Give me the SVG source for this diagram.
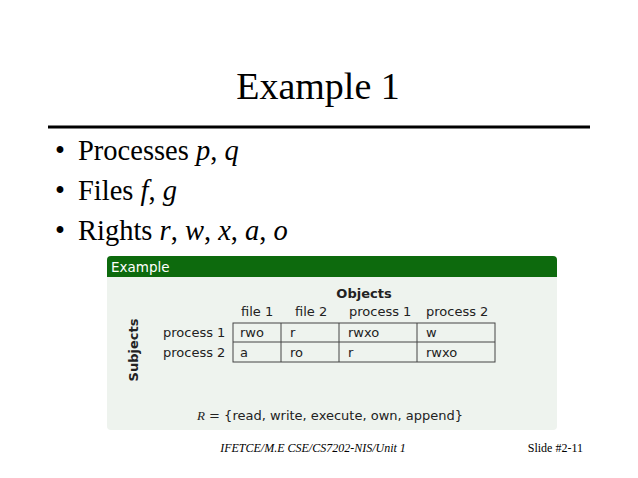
<svg xmlns="http://www.w3.org/2000/svg" width="638" height="478" viewBox="0 0 638 478">
<style>
.t{font-family:"Liberation Serif",serif;fill:#000}
.s{font-family:"DejaVu Sans",sans-serif;font-size:13px;fill:#222}
.c{fill:none;stroke:#444;stroke-width:1}
</style>
<rect width="638" height="478" fill="#fff"/>
<g id="title"><text class="t" x="318" y="99" font-size="38" text-anchor="middle">Example 1</text>
<line x1="48" y1="127" x2="590" y2="127" stroke="#000" stroke-width="3"/></g>
<g id="bullets" class="t" font-size="28.5">
<text x="55" y="160">•</text><text x="78" y="160">Processes <tspan font-style="italic">p</tspan>, <tspan font-style="italic">q</tspan></text>
<text x="55" y="200">•</text><text x="78" y="200">Files <tspan font-style="italic">f</tspan>, <tspan font-style="italic">g</tspan></text>
<text x="55" y="240">•</text><text x="78" y="240">Rights <tspan font-style="italic">r</tspan>, <tspan font-style="italic">w</tspan>, <tspan font-style="italic">x</tspan>, <tspan font-style="italic">a</tspan>, <tspan font-style="italic">o</tspan></text>
</g>
<g id="example">
<rect x="107" y="256" width="450" height="174" rx="4" fill="#eef3ee"/>
<path d="M107,277 V260 a4,4 0 0 1 4,-4 H553 a4,4 0 0 1 4,4 V277 Z" fill="#0d6a0d"/>
<text x="111" y="272" font-family="DejaVu Sans,sans-serif" font-size="13.5" fill="#fff">Example</text>
<text x="364" y="298" class="s" font-weight="bold" text-anchor="middle" font-size="14">Objects</text>
<text class="s" y="316"><tspan x="241">file 1</tspan><tspan x="295">file 2</tspan><tspan x="349">process 1</tspan><tspan x="426">process 2</tspan></text>
<text class="s" x="163" y="337">process 1</text>
<text class="s" x="163" y="357">process 2</text>
<text class="s" font-weight="bold" font-size="15" transform="translate(138,350) rotate(-90)" text-anchor="middle">Subjects</text>
<rect class="c" x="233" y="323" width="262" height="39"/>
<path class="c" d="M233,342H495M281,323V362M339,323V362M417,323V362"/>
<text class="s" y="337"><tspan x="240">rwo</tspan><tspan x="290">r</tspan><tspan x="348">rwxo</tspan><tspan x="426">w</tspan></text>
<text class="s" y="357"><tspan x="240">a</tspan><tspan x="290">ro</tspan><tspan x="348">r</tspan><tspan x="426">rwxo</tspan></text>
<text class="s" x="197" y="420" font-size="14.5"><tspan font-style="italic" font-family="Liberation Serif,serif">R</tspan> = {read, write, execute, own, append}</text>
</g>
<g id="footer" class="t" font-size="12" font-style="italic">
<text x="313" y="452" text-anchor="middle">IFETCE/M.E CSE/CS7202-NIS/Unit 1</text>
<text x="583" y="452" text-anchor="end" font-style="normal">Slide #2-11</text>
</g>
</svg>
